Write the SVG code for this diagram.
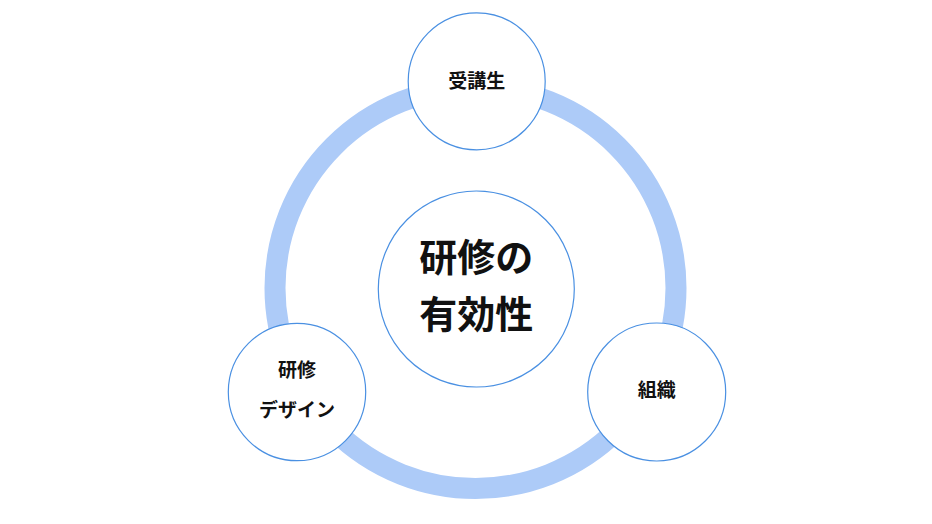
<svg xmlns="http://www.w3.org/2000/svg" width="932" height="524" viewBox="0 0 932 524">
<style>
.node{fill:#ffffff;stroke:#4a90e2;stroke-width:1.2}
.t{font-family:"Noto Sans CJK JP","Noto Sans CJK SC",sans-serif;font-weight:bold;fill:#111111;text-anchor:middle}
.s{font-size:19px}
.l{font-size:38px}
</style>
<rect width="932" height="524" fill="#ffffff"/>
<g id="connectors">
<circle cx="475.5" cy="288" r="200.5" fill="none" stroke="#adcbf8" stroke-width="21"/>
</g>
<g id="center">
<circle class="node" cx="476.3" cy="289" r="98"/>
<text class="t l" x="476.3" y="271">研修の</text>
<text class="t l" x="476.3" y="328">有効性</text>
</g>
<g id="trainee">
<circle class="node" cx="476.7" cy="81.3" r="68.5"/>
<text class="t s" x="476.7" y="87.5">受講生</text>
</g>
<g id="design">
<circle class="node" cx="297" cy="392" r="68.7"/>
<text class="t s" x="297" y="376.5">研修</text>
<text class="t s" x="297" y="416.5">デザイン</text>
</g>
<g id="organization">
<circle class="node" cx="656.7" cy="392" r="69"/>
<text class="t s" x="656.7" y="396.5">組織</text>
</g>
</svg>
